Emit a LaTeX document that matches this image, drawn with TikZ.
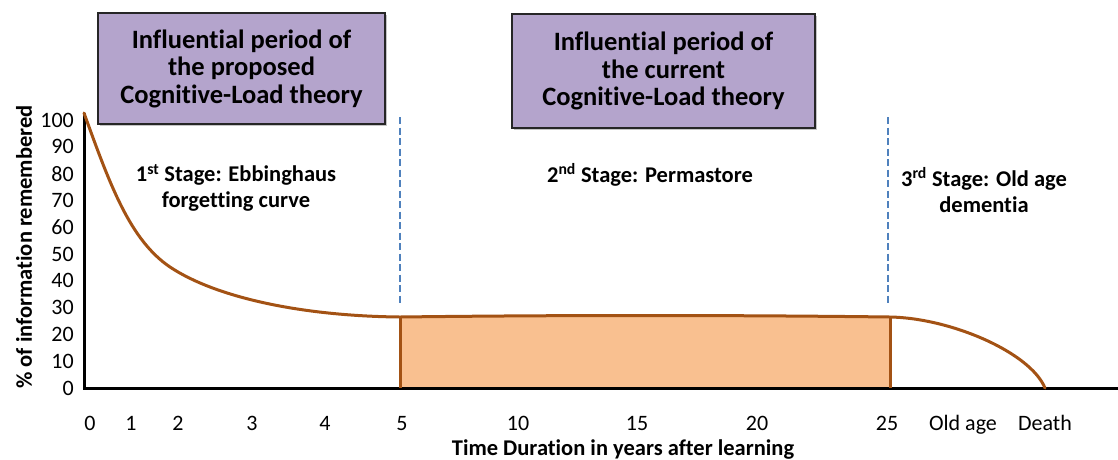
\documentclass[tikz,border=0pt]{standalone}
\usepackage{fontspec}
\setmainfont[Ligatures=NoCommon]{Carlito}
\usetikzlibrary{shadows}
\definecolor{curvebrown}{RGB}{163,82,20}
\definecolor{rectfill}{RGB}{249,192,144}
\definecolor{boxpurple}{RGB}{180,164,204}
\definecolor{dashblue}{RGB}{79,129,189}
\tikzset{
  x={(1pt,0pt)}, y={(0pt,-1pt)},
  theorybox/.style={draw=black!85, line width=1.6pt, fill=boxpurple, align=center,
    font=\fontsize{26.5}{27.5}\selectfont\bfseries, inner sep=0pt,
    drop shadow={shadow xshift=2pt, shadow yshift=-2pt, fill=black!45}},
  ticklab/.style={font=\fontsize{22}{24}\selectfont, inner sep=0pt},
  stagelab/.style={font=\fontsize{22.5}{26}\selectfont\bfseries, align=center, inner sep=0pt},
  axistitle/.style={font=\fontsize{22.5}{24}\selectfont\bfseries, inner sep=0pt},
  axisline/.style={line width=3pt, black},
  curveline/.style={line width=3pt, curvebrown, line cap=round},
  divider/.style={dashblue, line width=2.6pt, dash pattern=on 7pt off 3.5pt},
}
\begin{document}
\begin{tikzpicture}
\useasboundingbox (0,0) rectangle (1118,459);
% coordinates
\coordinate (ytop) at (84,113);
\coordinate (O) at (84,388);
\coordinate (xend) at (1118,388);
\coordinate (p5) at (400,317);
\coordinate (p25) at (890,317);
\coordinate (b5) at (400,388);
\coordinate (b25) at (890,388);
\coordinate (death) at (1045,388);
\coordinate (d1top) at (400,117);
\coordinate (d1bot) at (400,303);
\coordinate (d2top) at (888,117);
\coordinate (d2bot) at (888,303);
% permastore rectangle
\path[fill=rectfill] (p5) rectangle (b25);
% axes
\draw[axisline] (ytop) -- (O) -- (xend);
\draw[curveline, line cap=butt] (b5) -- (p5);
\draw[curveline, line cap=butt] (b25) -- (p25);
% curve
\draw[curveline] (ytop) .. controls (110,185) and (130,240) .. (170,267)
  .. controls (215,297) and (300,316) .. (p5)
  .. controls (560,315) and (730,315) .. (p25)
  .. controls (950,318) and (1030,352) .. (death);
% dashed dividers
\draw[divider] (d1top) -- (d1bot);
\draw[divider] (d2top) -- (d2bot);
% theory boxes
\node[theorybox, minimum width=287pt, minimum height=111pt] (box1) at (241.5,68.5)
  {Influential period of\\the proposed\\Cognitive-Load theory};
\node[theorybox, minimum width=303pt, minimum height=114pt] (box2) at (663.5,71)
  {Influential period of\\the current\\Cognitive-Load theory};
% y tick labels
\foreach \v [count=\i from 0] in {0,10,20,30,40,50,60,70,80,90,100}{
  \node[ticklab, anchor=east] (yt\i) at (74,{388-26.8*\i}) {\v};
}
% x tick labels
\foreach \lab/\xx [count=\i] in {0/90,1/131,2/178,3/252,4/325,5/402,10/518,15/637,20/757,25/887,Old age/963,Death/1045}{
  \node[ticklab, anchor=base] (xt\i) at (\xx,430) {\lab};
}
% axis titles
\node[axistitle, anchor=base] (xtitle) at (623,455) {Time Duration in years after learning};
\node[axistitle, rotate=90] (ytitle) at (24,247) {\% of information remembered};
% stage labels
\node[stagelab] (s1) at (236,188) {1\textsuperscript{st} Stage: Ebbinghaus\\forgetting curve};
\node[stagelab] (s2) at (650,175) {2\textsuperscript{nd} Stage: Permastore};
\node[stagelab] (s3) at (984,190) {3\textsuperscript{rd} Stage: Old age\\dementia};
\end{tikzpicture}
\end{document}
